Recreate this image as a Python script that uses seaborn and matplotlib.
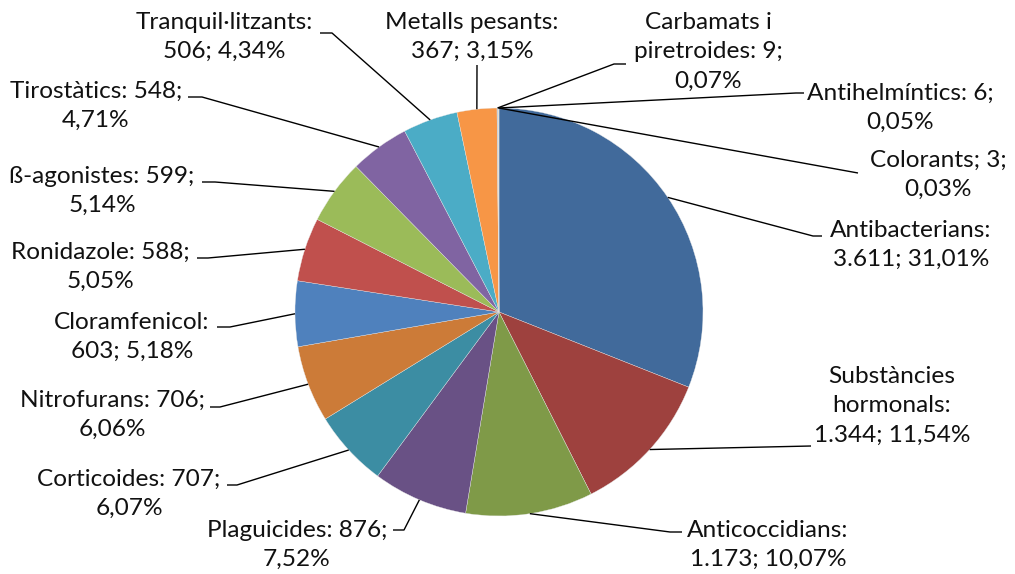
import numpy as np
import matplotlib
matplotlib.use("Agg")
import matplotlib.pyplot as plt
import seaborn as sns

# Data (clockwise from 12 o'clock)
categories = ["Antibacterians", "Substàncies\nhormonals", "Anticoccidians", "Plaguicides",
              "Corticoides", "Nitrofurans", "Cloramfenicol", "Ronidazole", "ß-agonistes",
              "Tirostàtics", "Tranquil·litzants", "Metalls pesants", "Carbamats i\npiretroides",
              "Antihelmíntics", "Colorants"]
values = [3611, 1344, 1173, 876, 707, 706, 603, 588, 599, 548, 506, 367, 9, 6, 3]
percents = [31.01, 11.54, 10.07, 7.52, 6.07, 6.06, 5.18, 5.05, 5.14, 4.71, 4.34, 3.15, 0.07, 0.05, 0.03]

# how each label wraps
label_formats = ["{n}:\n{v}; {p}", "{n}:\n{v}; {p}", "{n}:\n{v}; {p}", "{n}: {v};\n{p}",
                 "{n}: {v};\n{p}", "{n}: {v};\n{p}", "{n}:\n{v}; {p}", "{n}: {v};\n{p}",
                 "{n}: {v};\n{p}", "{n}: {v};\n{p}", "{n}:\n{v}; {p}", "{n}:\n{v}; {p}",
                 "{n}: {v};\n{p}", "{n}: {v};\n{p}", "{n}; {v};\n{p}"]

slice_colors = ["#416A9B", "#9E413E", "#7F9A48", "#695185", "#3C8DA3", "#CC7B38",
                "#4F81BD", "#C0504D", "#9BBB59", "#8064A2", "#4BACC6", "#F79646",
                "#A8B8D0", "#D3A6A5", "#C3D69B"]

# label layout in pixels: text centre, leader bend, leader end
label_layout = [
    ((911, 245), (813, 236), (822, 236)),
    ((892, 406), (811, 446), (811, 446)),
    ((768, 545), (670, 532), (682, 532)),
    ((297, 545), (404, 530), (393, 530)),
    ((129, 494), (237, 485), (227, 485)),
    ((112, 415), (220, 407), (210, 407)),
    ((132, 337), (230, 327), (217, 327)),
    ((100, 267), (208, 258), (197, 258)),
    ((102, 191), (215, 182), (202, 182)),
    ((96, 106), (202, 97), (188, 97)),
    ((224, 37), (332, 33), (320, 33)),
    ((472, 37), (477, 65), (477, 65)),
    ((708, 52), (614, 64), (626, 64)),
    ((900, 108), (796, 93), (804, 93)),
    ((938, 175), (858, 173), (858, 173)),
]

W, H = 1015, 574
CX, CY, R = 499, 312, 204


def px(p):
    return ((p[0] - CX) / R, (CY - p[1]) / R)


def fmt_num(v):
    return f"{v:,}".replace(",", ".")


def fmt_pct(p):
    return f"{p:.2f}".replace(".", ",") + "%"


sns.set_theme(style="white")
plt.rcParams["font.family"] = ["Lato", "DejaVu Sans"]

fig = plt.figure(figsize=(W / 100, H / 100), dpi=100)
ax = fig.add_axes([0, 0, 1, 1])

colors = sns.color_palette(slice_colors)
wedges, _ = ax.pie(values, colors=colors, startangle=90, counterclock=False, radius=1,
                   wedgeprops=dict(edgecolor="#e8e8e8", linewidth=0.25))

for i, w in enumerate(wedges):
    text_pos, bend, end = label_layout[i]
    mid = np.deg2rad((w.theta1 + w.theta2) / 2)
    start = (np.cos(mid), np.sin(mid))
    b, e = px(bend), px(end)
    ax.plot([start[0], b[0], e[0]], [start[1], b[1], e[1]], color="black", lw=1.0,
            solid_capstyle="butt")
    label = label_formats[i].format(n=categories[i], v=fmt_num(values[i]), p=fmt_pct(percents[i]))
    t = px(text_pos)
    ax.text(t[0], t[1], label, ha="center", va="center", multialignment="center",
            fontsize=17.6, color="#111111", linespacing=1.48)

ax.set_xlim(-CX / R, (W - CX) / R)
ax.set_ylim((CY - H) / R, CY / R)
ax.set_aspect("auto")
ax.axis("off")

fig.savefig("out.png", dpi=100, facecolor="white")
